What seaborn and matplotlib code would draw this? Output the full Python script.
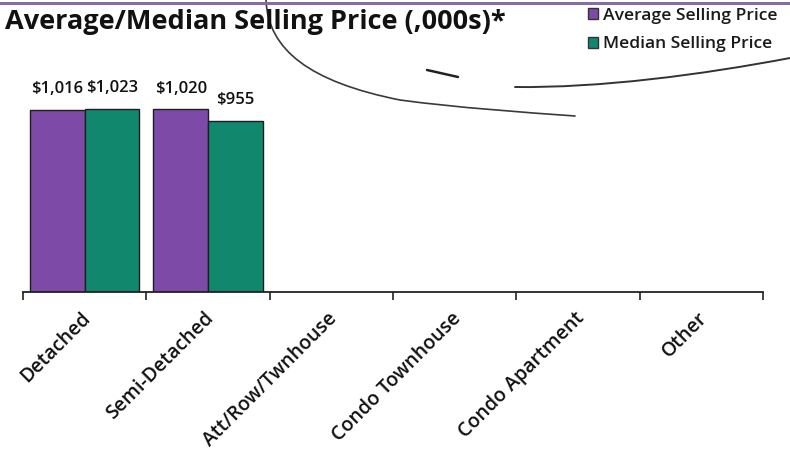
import numpy as np
import pandas as pd
import matplotlib
matplotlib.use("Agg")
import matplotlib.pyplot as plt
import matplotlib.transforms as mtransforms
from matplotlib.path import Path
from matplotlib.patches import PathPatch
from matplotlib.lines import Line2D
import seaborn as sns

# ---- data (thousands of dollars) ----
categories = ["Detached", "Semi-Detached", "Att/Row/Twnhouse",
              "Condo Townhouse", "Condo Apartment", "Other"]
average_price = [1016, 1020, np.nan, np.nan, np.nan, np.nan]
median_price = [1023, 955, np.nan, np.nan, np.nan, np.nan]
series_names = ["Average Selling Price", "Median Selling Price"]
title_text = "Average/Median Selling Price (,000s)*"

df = pd.DataFrame({
    "category": categories * 2,
    "series": [series_names[0]] * len(categories) + [series_names[1]] * len(categories),
    "price": average_price + median_price,
})

sns.set_theme(style="white")
plt.rcParams["font.family"] = ["Open Sans", "DejaVu Sans"]

W, H = 790, 451
fig = plt.figure(figsize=(W / 100, H / 100), dpi=100)

def fx(px):
    return px / W

def fy(py):
    return 1 - py / H

ax_left, ax_right, ax_top, ax_bottom = 23, 763, 60, 292
ax = fig.add_axes([fx(ax_left), fy(ax_bottom), fx(ax_right - ax_left),
                   (ax_bottom - ax_top) / H])

palette = {series_names[0]: "#7d4aa8", series_names[1]: "#11876e"}
sns.barplot(data=df, x="category", y="price", hue="series", order=categories,
            hue_order=series_names, palette=palette, width=0.885, gap=0,
            edgecolor="#1e1e1e", linewidth=1.0, saturation=1, ax=ax)

ax.set_xlim(-0.5, len(categories) - 0.5)
ax.set_ylim(0, 1295)
ax.set_xlabel("")
ax.set_ylabel("")
ax.set_yticks([])
for s in ["top", "right", "left"]:
    ax.spines[s].set_visible(False)
ax.spines["bottom"].set_color("#222222")
ax.spines["bottom"].set_linewidth(1.3)

# boundary tick marks between categories
ax.set_xticks(np.arange(-0.5, len(categories)), minor=True)
ax.tick_params(axis="x", which="minor", bottom=True, length=6, width=1.2,
               color="#222222", direction="out")
ax.tick_params(axis="x", which="major", bottom=False, length=0, pad=12)
ax.set_xticks(range(len(categories)))
ax.set_xticklabels(categories, rotation=45, ha="right", va="top",
                   rotation_mode="anchor", fontsize=14, color="#111111",
                   fontweight="semibold")
shift = mtransforms.ScaledTranslation(-4 / 100, 0, fig.dpi_scale_trans)
for lab in ax.get_xticklabels():
    lab.set_transform(lab.get_transform() + shift)

# value labels
for cont in ax.containers:
    labels = ["" if np.isnan(v) else f"${v:,.0f}" for v in cont.datavalues]
    ax.bar_label(cont, labels=labels, padding=9, fontsize=12,
                 color="#111111", fontweight="semibold")

# legend at top right
handles, labs = ax.get_legend_handles_labels()
if ax.get_legend() is not None:
    ax.get_legend().remove()
for h in handles:
    h.set_edgecolor("#333333")
leg = fig.legend(handles, labs, loc="upper left", bbox_to_anchor=(fx(586), fy(6)),
                 frameon=False, fontsize=12.6, handlelength=0.6, handleheight=0.6,
                 handletextpad=0.25, labelspacing=0.72, borderaxespad=0, borderpad=0.1)
for t in leg.get_texts():
    t.set_fontweight("semibold")
    t.set_color("#1a1a1a")

# title
fig.text(fx(5), fy(22), title_text, fontsize=19.5, fontweight="bold",
         color="#111111", va="center", ha="left")

# top rule
fig.add_artist(Line2D([0, 1], [fy(3), fy(3)], transform=fig.transFigure,
                      color="#8a6d9a", lw=2.2))

# hand-drawn pen strokes
def stroke(points, codes, lw=1.2, color="#3a3a3a"):
    pts = [(fx(x), fy(y)) for x, y in points]
    patch = PathPatch(Path(pts, codes), transform=fig.transFigure,
                      facecolor="none", edgecolor=color, lw=lw, capstyle="round")
    fig.add_artist(patch)

C4 = Path.CURVE4
stroke([(266, 0), (268, 50), (310, 82), (400, 100),
        (460, 108), (520, 112), (575, 116)],
       [Path.MOVETO, C4, C4, C4, C4, C4, C4])
stroke([(427, 70), (458, 77)], [Path.MOVETO, Path.LINETO], lw=1.8, color="#222222")
stroke([(515, 87), (600, 88), (700, 75), (790, 58)],
       [Path.MOVETO, C4, C4, C4], lw=1.4, color="#333333")

fig.savefig("out.png", dpi=100)
